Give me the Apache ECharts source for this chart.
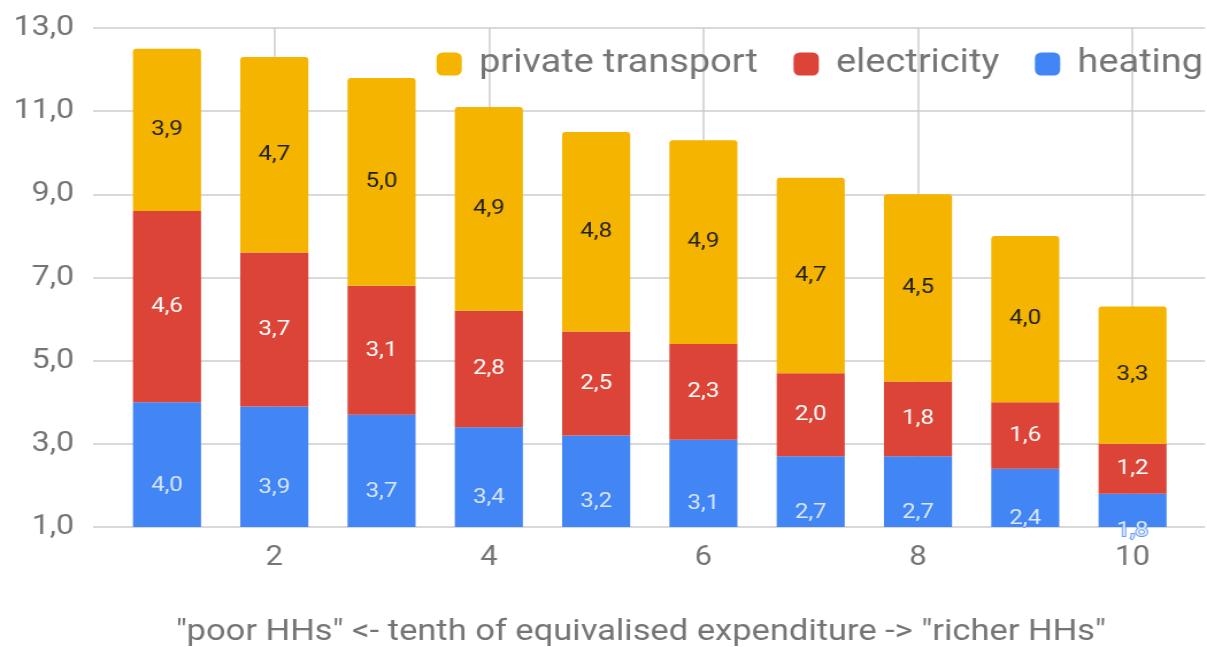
<!DOCTYPE html>
<html>
<head>
<meta charset="utf-8">
<script src="https://cdn.jsdelivr.net/npm/echarts@6/dist/echarts.min.js"></script>
<style>
html,body{margin:0;padding:0;background:#fff;overflow:hidden;}
#wrap{width:1207px;height:647px;overflow:hidden;}
#chart{width:1050px;height:647px;transform:scaleX(1.14952);transform-origin:0 0;}
</style>
</head>
<body>
<div id="wrap"><div id="chart"></div></div>
<script>
const categories = ['1', '2', '3', '4', '5', '6', '7', '8', '9', '10'];
const xTickLabels = ['2', '4', '6', '8', '10'];
const seriesNames = ['private transport', 'electricity', 'heating'];
const heating = [4.0, 3.9, 3.7, 3.4, 3.2, 3.1, 2.7, 2.7, 2.4, 1.8];
const electricity = [4.6, 3.7, 3.1, 2.8, 2.5, 2.3, 2.0, 1.8, 1.6, 1.2];
const transport = [3.9, 4.7, 5.0, 4.9, 4.8, 4.9, 4.7, 4.5, 4.0, 3.3];
const yTicks = [1, 3, 5, 7, 9, 11, 13];
const xTitle = '"poor HHs" <- tenth of equivalised expenditure -> "richer HHs"';

const COL_T = '#F4B400', COL_E = '#DB4437', COL_H = '#4285F4';
const GRAY = '#757575', GRID = '#cccccc';
const FONT = 'Roboto';
const fmt = v => Number(v).toFixed(1).replace('.', ',');

const chart = echarts.init(document.getElementById('chart'));
chart.setOption({
  animation: false,
  textStyle: { fontFamily: FONT },
  grid: [
    { left: 81, right: 1.7, top: 28, bottom: 120, containLabel: false },
    { left: 98.6, right: 18.1, top: 28, bottom: 120, containLabel: false }
  ],
  legend: {
    data: seriesNames,
    right: 3.5, top: 47.5, padding: 0,
    orient: 'horizontal',
    icon: 'roundRect',
    itemWidth: 22, itemHeight: 23,
    itemGap: 31,
    textStyle: { fontFamily: FONT, fontSize: 33, color: GRAY, padding: [0, 0, 0, 10] }
  },
  xAxis: [
    { type: 'value', gridIndex: 0, min: 0, max: 1, show: false },
    {
      type: 'category', gridIndex: 1, data: categories,
      axisLine: { show: false },
      axisTick: { show: false },
      splitLine: { show: false },
      axisLabel: {
        interval: idx => xTickLabels.indexOf(categories[idx]) >= 0,
        fontFamily: FONT, fontSize: 27, color: GRAY, margin: 18
      }
    }
  ],
  yAxis: [
    {
      type: 'value', gridIndex: 0,
      min: yTicks[0], max: yTicks[yTicks.length - 1], interval: 2,
      axisLine: { show: false },
      axisTick: { show: false },
      splitLine: { lineStyle: { color: GRID, width: 1.5 } },
      axisLabel: { formatter: v => fmt(v), fontFamily: FONT, fontSize: 28, color: GRAY, margin: 16.5 }
    },
    {
      type: 'value', gridIndex: 1,
      min: yTicks[0], max: yTicks[yTicks.length - 1], interval: 2,
      show: false, splitLine: { show: false }
    }
  ],
  graphic: [{
    type: 'text', x: 557.6, y: 632,
    style: { text: xTitle, fontFamily: FONT, fontSize: 30, fill: GRAY, align: 'center', verticalAlign: 'middle' }
  }],
  series: [
    {
      type: 'line', xAxisIndex: 1, yAxisIndex: 1, data: [], z: 0, silent: true,
      markLine: {
        z: 0, silent: true, symbol: 'none', label: { show: false }, animation: false,
        lineStyle: { color: GRID, width: 1.5, type: 'solid' },
        data: xTickLabels.map(v => ({ xAxis: v }))
      }
    },
    {
      name: 'heating', type: 'bar', stack: 'total', barWidth: 59.2, z: 2,
      xAxisIndex: 1, yAxisIndex: 1,
      itemStyle: { color: COL_H },
      data: heating
    },
    {
      name: 'electricity', type: 'bar', stack: 'total', barWidth: 59.2, z: 2,
      xAxisIndex: 1, yAxisIndex: 1,
      itemStyle: { color: COL_E },
      label: { show: true, position: 'inside', color: '#ffffff', fontFamily: FONT, fontSize: 21,
        formatter: p => fmt(p.value) },
      data: electricity
    },
    {
      name: 'private transport', type: 'bar', stack: 'total', barWidth: 59.2, z: 2,
      xAxisIndex: 1, yAxisIndex: 1,
      itemStyle: { color: COL_T, borderRadius: [3, 3, 0, 0] },
      label: { show: true, position: 'inside', color: '#1f1f1f', fontFamily: FONT, fontSize: 21,
        formatter: p => fmt(p.value) },
      data: transport
    },
    {
      type: 'scatter', xAxisIndex: 1, yAxisIndex: 1, symbolSize: 0, clip: false, z: 5, silent: true,
      label: { show: true, position: 'inside', color: '#ffffff', fontFamily: FONT, fontSize: 21,
        textBorderColor: COL_H, textBorderWidth: 2,
        formatter: p => fmt(p.value[2]) },
      data: categories.map((c, i) => [c, heating[i] / 2, heating[i]])
    }
  ]
});
</script>
</body>
</html>
